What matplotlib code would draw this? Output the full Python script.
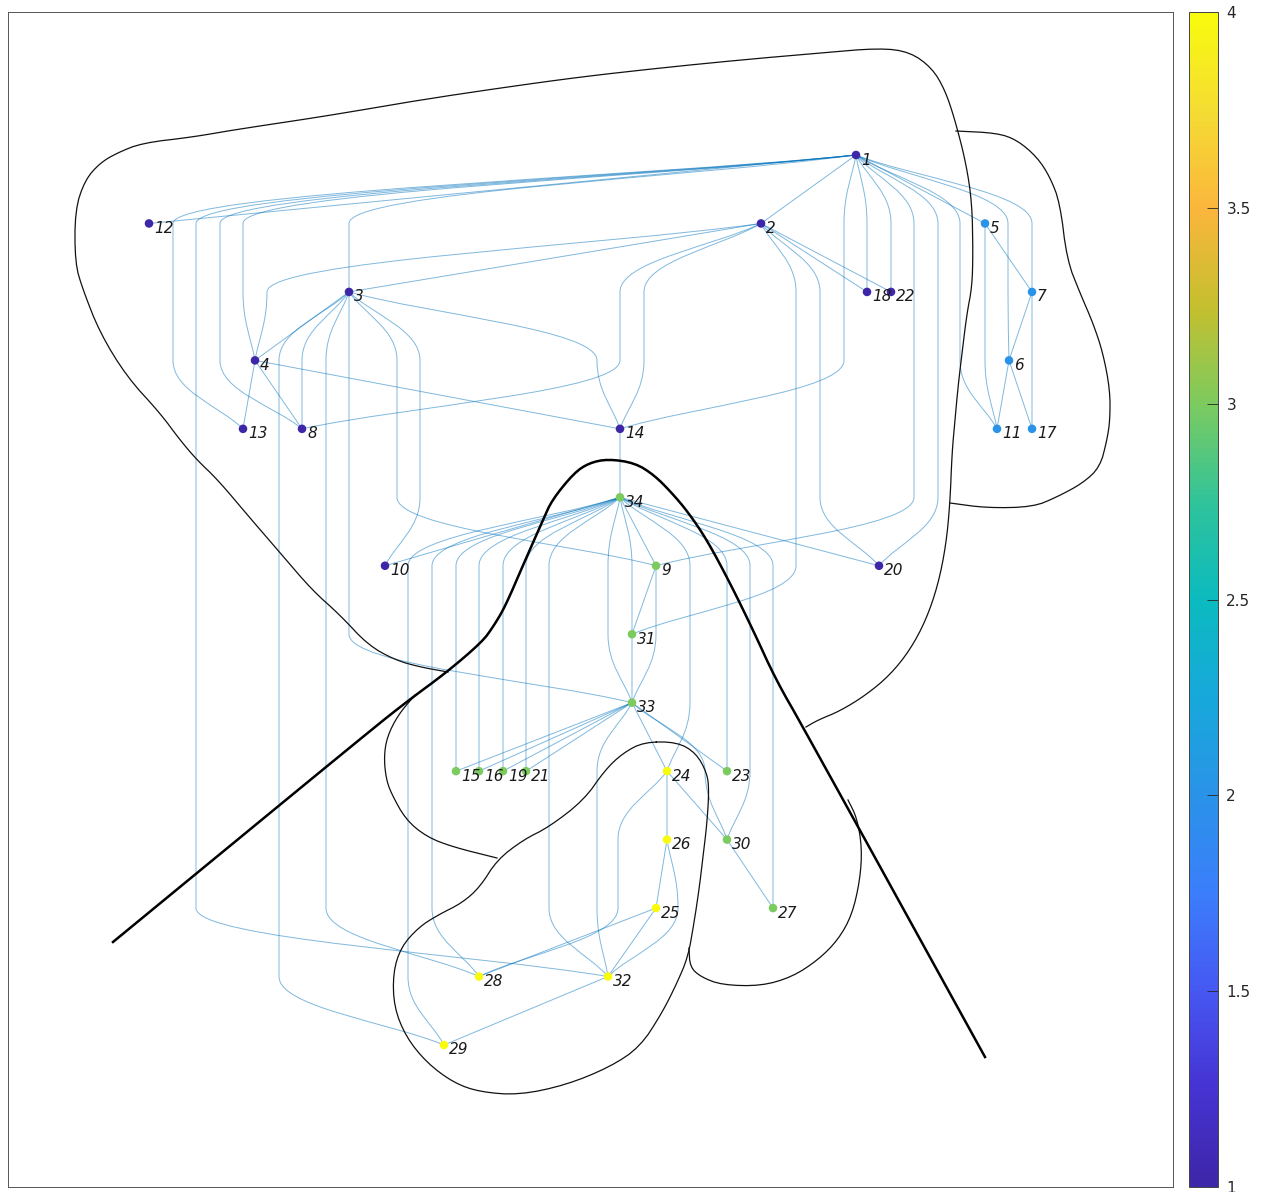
import matplotlib
matplotlib.use("Agg")
import matplotlib.pyplot as plt
import numpy as np
from matplotlib.path import Path
from matplotlib.patches import PathPatch
from matplotlib.colors import LinearSegmentedColormap, Normalize
from matplotlib.cm import ScalarMappable

# layered layout of the karate club graph: x position and layer of each node
node_x = [856, 761, 349, 255, 985, 1009, 1032, 302, 656, 385,
          997, 149, 243, 620, 456, 479, 1032, 867, 503, 879,
          526, 891, 727, 667, 656, 667, 773, 479, 444, 727,
          632, 608, 632, 620]
node_layer = [0, 1, 2, 3, 1, 3, 2, 4, 6, 6,
              4, 1, 4, 4, 9, 9, 4, 2, 9, 6,
              9, 2, 9, 9, 11, 10, 11, 12, 13, 10,
              7, 12, 8, 5]
community = [1, 1, 1, 1, 2, 2, 2, 1, 3, 1,
             2, 1, 1, 1, 3, 3, 2, 1, 3, 1,
             3, 1, 3, 4, 4, 4, 3, 4, 4, 3,
             3, 4, 3, 3]

# edges between adjacent layers
short_edges = [(1, 2), (1, 5), (1, 12), (2, 3), (2, 18), (2, 22), (3, 4),
               (4, 8), (4, 13), (4, 14), (5, 7), (6, 7), (6, 11), (6, 17),
               (9, 31), (9, 34), (10, 34), (14, 34), (15, 33), (16, 33),
               (19, 33), (21, 33), (23, 33), (24, 33), (20, 34), (24, 26),
               (24, 30), (25, 26), (25, 28), (25, 32), (27, 30), (29, 32),
               (31, 33)]

# longer edges and the x of their bend points on each layer they cross
long_edges = {
    (1, 3): [349], (1, 4): [243, 243], (1, 6): [1008, 1008], (1, 7): [1032],
    (1, 8): [220] * 3, (1, 9): [914] * 5, (1, 11): [960] * 3,
    (1, 13): [173] * 3, (1, 14): [844] * 3, (1, 18): [867],
    (1, 20): [938] * 5, (1, 22): [891], (1, 32): [196] * 11,
    (2, 4): [267], (2, 8): [620, 620], (2, 14): [644, 644],
    (2, 20): [820] * 4, (2, 31): [796] * 5,
    (3, 8): [302], (3, 9): [397] * 3, (3, 10): [420] * 3, (3, 14): [597],
    (3, 28): [326] * 9, (3, 29): [279] * 10, (3, 33): [349] * 5,
    (5, 11): [985] * 2, (7, 17): [1032], (9, 33): [656],
    (15, 34): [456] * 3, (16, 34): [479] * 3, (19, 34): [503] * 3,
    (21, 34): [526] * 3, (23, 34): [727] * 3, (24, 34): [690] * 3,
    (24, 28): [618, 618], (26, 32): [678], (27, 34): [773] * 5,
    (28, 34): [432] * 6, (29, 34): [408] * 7, (30, 33): [705],
    (30, 34): [750] * 4, (31, 34): [632], (32, 33): [597] * 3,
    (32, 34): [549] * 6, (33, 34): [608] * 2,
}

# freehand outlines drawn over the graph
outline_a = [(448, 672), (420, 667), (395, 660), (368, 645), (340, 615),
             (312, 590), (282, 555), (250, 518), (218, 480), (197, 460),
             (180, 440), (160, 413), (127, 377), (100, 333), (83, 290),
             (75, 263), (75, 210), (85, 180), (100, 163), (117, 153),
             (142, 143), (193, 137), (233, 130), (300, 120), (350, 112),
             (420, 100), (500, 88), (580, 77), (660, 68), (740, 60),
             (820, 53), (880, 48), (910, 52), (932, 68), (945, 90),
             (955, 120), (966, 163), (972, 203), (973, 253), (972, 287),
             (967, 313), (962, 353), (958, 387), (955, 420), (952, 453),
             (950, 503), (946, 545), (938, 585), (926, 620), (910, 650),
             (890, 675), (866, 695), (840, 711), (818, 720), (806, 727)]
outline_b = [(415, 695), (398, 715), (387, 737), (384, 757), (386, 778),
             (391, 793), (406, 820), (427, 837), (453, 847), (497, 858)]
outline_c = [(644, 742), (677, 742), (696, 753), (707, 773), (709, 790),
             (707, 823), (703, 857), (699, 890), (694, 923), (688, 957),
             (677, 983), (662, 1013), (640, 1047), (610, 1067), (566, 1085),
             (519, 1095), (480, 1092), (454, 1083), (427, 1063), (406, 1037),
             (394, 1007), (393, 973), (401, 947), (419, 927), (438, 915),
             (462, 903), (480, 887), (497, 860), (523, 840), (549, 827),
             (584, 800), (605, 770), (623, 753), (644, 742)]
outline_d = [(689, 948), (690, 967), (701, 977), (722, 985), (761, 986),
             (792, 977), (818, 960), (838, 940), (852, 915), (860, 880),
             (862, 848), (857, 818), (848, 800)]
outline_e = [(956, 131), (997, 133), (1017, 140), (1037, 157), (1050, 177),
             (1060, 203), (1067, 260), (1080, 293), (1093, 323), (1103, 353),
             (1110, 390), (1110, 420), (1107, 440), (1100, 467), (1083, 483),
             (1057, 497), (1033, 507), (987, 508), (950, 503)]
bold_line = [(113, 942), (371, 730), (409, 700), (447, 672), (482, 642),
             (493, 627), (505, 607), (524, 563), (543, 520), (552, 500),
             (574, 473), (589, 463), (608, 459), (635, 463), (654, 475),
             (671, 492), (688, 512), (707, 540), (730, 583), (753, 630),
             (776, 680), (803, 727), (985, 1057)]

cbar_ticks = [1, 1.5, 2, 2.5, 3, 3.5, 4]

parula_colors = ['#3e26a8', '#4533d2', '#4658f2', '#3b7efb', '#2a93e8',
                 '#17a8da', '#0bbbbf', '#30c39a', '#7ccb5f', '#c5bf2e',
                 '#fbb63c', '#f4dc33', '#f9fb0e']
cmap = LinearSegmentedColormap.from_list('parula', parula_colors)
norm = Normalize(1, 4)

LAYER_TOP, LAYER_STEP = 155.0, 68.46


def layer_y(k):
    return LAYER_TOP + LAYER_STEP * k


def chaikin(pts, n=2, closed=False):
    p = np.asarray(pts, float)
    for _ in range(n):
        a = p if not closed else np.vstack([p, p[:1]])
        q = 0.75 * a[:-1] + 0.25 * a[1:]
        r = 0.25 * a[:-1] + 0.75 * a[1:]
        mid = np.empty((2 * len(q), 2))
        mid[0::2], mid[1::2] = q, r
        p = mid if closed else np.vstack([p[:1], mid, p[-1:]])
    if closed:
        p = np.vstack([p, p[:1]])
    return p


def edge_path(s, t, lanes):
    if node_layer[s - 1] > node_layer[t - 1]:
        s, t = t, s
    la, lb = node_layer[s - 1], node_layer[t - 1]
    pts = [(node_x[s - 1], layer_y(la))]
    pts += [(x, layer_y(la + 1 + i)) for i, x in enumerate(lanes)]
    pts.append((node_x[t - 1], layer_y(lb)))
    pts = [np.array(p, float) for p in pts]
    verts, codes = [pts[0]], [Path.MOVETO]
    for i in range(len(pts) - 1):
        p, q = pts[i], pts[i + 1]
        h = 0.45 * (q[1] - p[1])
        c1 = p + (q - p) / 3 if i == 0 else p + [0, h]
        c2 = q - (q - p) / 3 if i == len(pts) - 2 else q - [0, h]
        verts += [c1, c2, q]
        codes += [Path.CURVE4] * 3
    return Path(verts, codes)


fig = plt.figure(figsize=(12.65, 11.92), dpi=100)
ax = fig.add_axes([8 / 1265, 5 / 1192, 1165 / 1265, 1175 / 1192])
ax.set_xlim(8, 1173)
ax.set_ylim(1187, 12)
ax.set_xticks([])
ax.set_yticks([])
for sp in ax.spines.values():
    sp.set_color('#555555')
    sp.set_linewidth(0.7)

edge_color = (0, 0.447, 0.741)
all_edges = [(e, []) for e in short_edges] + list(long_edges.items())
for (s, t), lanes in all_edges:
    ax.add_patch(PathPatch(edge_path(s, t, lanes), fill=False,
                           edgecolor=edge_color, alpha=0.5, lw=0.7, zorder=1))

ys = [layer_y(k) for k in node_layer]
ax.scatter(node_x, ys, s=38, c=community, cmap=cmap, norm=norm,
           edgecolors='none', zorder=3)
for i, (x, y) in enumerate(zip(node_x, ys)):
    ax.text(x + 5, y + 5, str(i + 1), fontsize=11, style='italic',
            color='#1a1a1a', ha='left', va='center', zorder=4)

for pts, closed in [(outline_a, False), (outline_b, False), (outline_c, True),
                    (outline_d, False), (outline_e, False)]:
    p = chaikin(pts[:-1] if closed else pts, 2, closed)
    ax.plot(p[:, 0], p[:, 1], color='#111111', lw=0.9, zorder=5)
p = chaikin(bold_line, 2)
ax.plot(p[:, 0], p[:, 1], color='black', lw=1.8, zorder=5)

cax = fig.add_axes([1189 / 1265, 5 / 1192, 29 / 1265, 1175 / 1192])
cb = fig.colorbar(ScalarMappable(norm=norm, cmap=cmap), cax=cax, ticks=cbar_ticks)
cb.ax.set_yticklabels([f'{v:g}' for v in cbar_ticks])
cb.ax.tick_params(direction='in', length=8, width=0.6, colors='#262626',
                  labelsize=11, pad=6)
cb.outline.set_edgecolor('#444444')
cb.outline.set_linewidth(0.7)

fig.savefig('out.png', dpi=100)
